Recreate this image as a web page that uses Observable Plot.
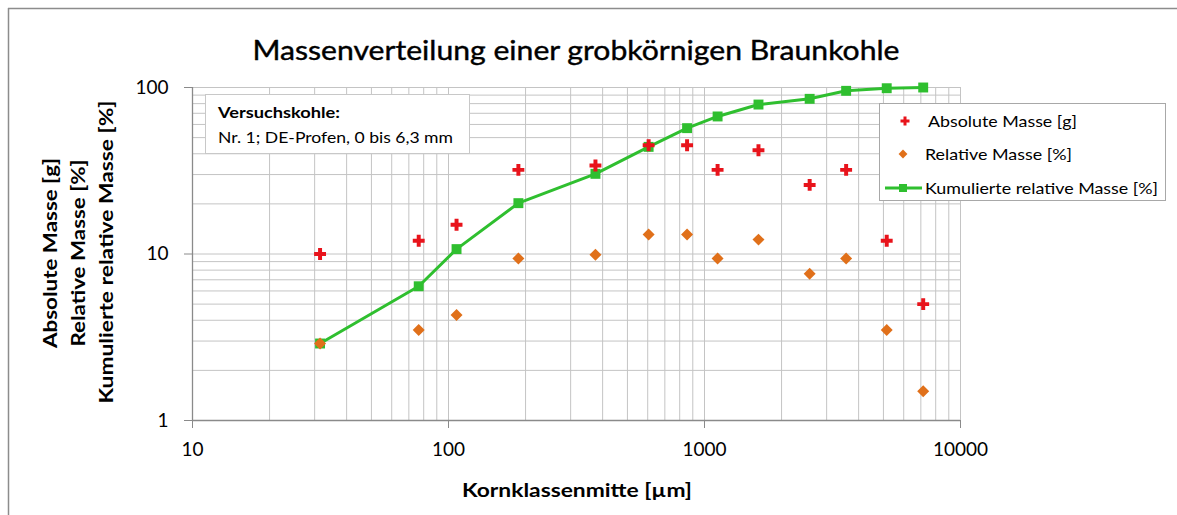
<!DOCTYPE html>
<html><head><meta charset="utf-8">
<script src="https://cdn.jsdelivr.net/npm/d3@7"></script>
<script src="https://cdn.jsdelivr.net/npm/@observablehq/plot@0.6"></script>
<style>html,body{margin:0;padding:0;background:#fff;overflow:hidden}#chart svg{display:block;overflow:hidden}</style>
</head><body><div id="chart"></div>
<script>
// Kornklassenmitte [µm]
const sizes   = [31.5, 76.5, 107.5, 187.5, 375, 605, 855, 1125, 1625, 2575, 3575, 5150, 7150];
// Absolute Masse [g]
const absMass = [10, 12, 15, 32, 34, 45, 45, 32, 42, 26, 32, 12, 5];
// Relative Masse [%]
const relMass = [2.9, 3.5, 4.3, 9.4, 9.9, 13.1, 13.1, 9.4, 12.2, 7.6, 9.4, 3.5, 1.5];
// Kumulierte relative Masse [%]
const cumMass = [2.9, 6.4, 10.7, 20.2, 30.3, 44, 57, 67, 79, 85.5, 95.5, 99, 100];

const xTicks = [10, 100, 1000, 10000];
const yTicks = [1, 10, 100];
const seriesNames = ["Absolute Masse [g]", "Relative Masse [%]", "Kumulierte relative Masse [%]"];
const titleText = "Massenverteilung einer grobkörnigen Braunkohle";
const xLabel = "Kornklassenmitte [µm]";
const noteTitle = "Versuchskohle:";
const noteText = "Nr. 1; DE-Profen, 0 bis 6,3 mm";

const xGrid = [];
for (const d of [10, 100, 1000]) for (let k = 1; k < 10; k++) xGrid.push(d * k);
xGrid.push(10000);
const yGrid = [];
for (const d of [1, 10]) for (let k = 1; k < 10; k++) yGrid.push(d * k);
yGrid.push(100);

const rows = sizes.map((s, i) => ({s, a: absMass[i], r: relMass[i], c: cumMass[i]}));

const RED = "#e8131b", ORANGE = "#e0701a", GREEN = "#2fbf2f";
const W = 1177, H = 515;

const chart = Plot.plot({
  width: W, height: H,
  marginLeft: 192, marginRight: 217, marginTop: 87, marginBottom: 95,
  style: {fontFamily: "Lato, sans-serif", background: "#fff", color: "#000"},
  x: {type: "log", domain: [10, 10000]},
  y: {type: "log", domain: [1, 100]},
  marks: [
    Plot.ruleX(xGrid, {stroke: "#c4c4c4", strokeWidth: 1}),
    Plot.ruleY(yGrid, {stroke: "#c4c4c4", strokeWidth: 1}),
    Plot.ruleX([10], {stroke: "#8a8a8a", strokeWidth: 1.3}),
    Plot.ruleY([1], {stroke: "#8a8a8a", strokeWidth: 1.3}),
    Plot.axisY({ticks: yTicks, tickFormat: d => String(d), tickSize: 8, tickPadding: 16,
      stroke: "#8a8a8a", fill: "#000", fontSize: 19, label: null}),
    Plot.axisX({ticks: xTicks, tickFormat: d => String(d), tickSize: 8, tickPadding: 14,
      stroke: "#8a8a8a", fill: "#000", fontSize: 19, label: null}),
    Plot.line(rows, {x: "s", y: "c", stroke: GREEN, strokeWidth: 3}),
    Plot.dot(rows, {x: "s", y: "c", symbol: "square", r: 5.6, fill: GREEN, stroke: "none"}),
    Plot.dot(rows, {x: "s", y: "a", symbol: "cross", r: 5, fill: RED, stroke: "none"}),
    Plot.dot(rows, {x: "s", y: "r", symbol: "diamond2", r: 5.4, fill: ORANGE, stroke: "none"})
  ]
});
document.getElementById("chart").appendChild(chart);

const svg = d3.select(chart);
// outer chart border (left and top edges)
svg.append("line").attr("x1", 8.5).attr("x2", 8.5).attr("y1", 8).attr("y2", H)
  .attr("stroke", "#8c8c8c").attr("stroke-width", 1.5);
svg.append("line").attr("x1", 8).attr("x2", W).attr("y1", 8.5).attr("y2", 8.5)
  .attr("stroke", "#8c8c8c").attr("stroke-width", 1.5);

function txt(g, t, x, y, o = {}) {
  const e = g.append("text").attr("x", x).attr("y", y).text(t)
    .attr("font-family", "Lato, sans-serif")
    .attr("font-size", o.size || 16)
    .attr("font-weight", o.weight || "normal")
    .attr("text-anchor", o.anchor || "start")
    .attr("fill", "#000");
  if (o.len) e.attr("textLength", o.len).attr("lengthAdjust", "spacingAndGlyphs");
  if (o.rotate) e.attr("transform", `rotate(-90,${x},${y})`);
  return e;
}

// title
txt(svg, titleText, 576, 60, {size: 27, anchor: "middle", len: 647}).attr("stroke", "#000").attr("stroke-width", 0.4);
// x label
txt(svg, xLabel, 577, 497, {size: 19, weight: "bold", anchor: "middle", len: 230});
// y labels
txt(svg, seriesNames[0], 57, 253, {size: 19, weight: "bold", anchor: "middle", len: 190, rotate: true});
txt(svg, seriesNames[1], 85, 253, {size: 19, weight: "bold", anchor: "middle", len: 187, rotate: true});
txt(svg, seriesNames[2], 113, 252, {size: 19, weight: "bold", anchor: "middle", len: 303, rotate: true});

// annotation box
const note = svg.append("g");
note.append("rect").attr("x", 205.5).attr("y", 94.5).attr("width", 264).attr("height", 59)
  .attr("fill", "#fff").attr("stroke", "#c8c8c8");
txt(note, noteTitle, 218, 118, {size: 16, weight: "bold", len: 122});
txt(note, noteText, 218, 143, {size: 16, len: 235});

// legend
const lg = svg.append("g");
lg.append("rect").attr("x", 879.5).attr("y", 103.5).attr("width", 286).attr("height", 97)
  .attr("fill", "#fff").attr("stroke", "#a8a8a8");
lg.append("path").attr("d", d3.symbol(d3.symbolCross, 45)()).attr("transform", "translate(905,121)").attr("fill", RED);
txt(lg, seriesNames[0], 928, 127, {size: 16, len: 149});
lg.append("path").attr("d", d3.symbol(d3.symbolDiamond2, 50)()).attr("transform", "translate(903,154)").attr("fill", ORANGE);
txt(lg, seriesNames[1], 925, 160, {size: 16, len: 147});
lg.append("line").attr("x1", 885).attr("x2", 922).attr("y1", 188).attr("y2", 188).attr("stroke", GREEN).attr("stroke-width", 3);
lg.append("rect").attr("x", 899).attr("y", 184).attr("width", 8).attr("height", 8).attr("fill", GREEN);
txt(lg, seriesNames[2], 925, 194, {size: 16, len: 233});
</script></body></html>
